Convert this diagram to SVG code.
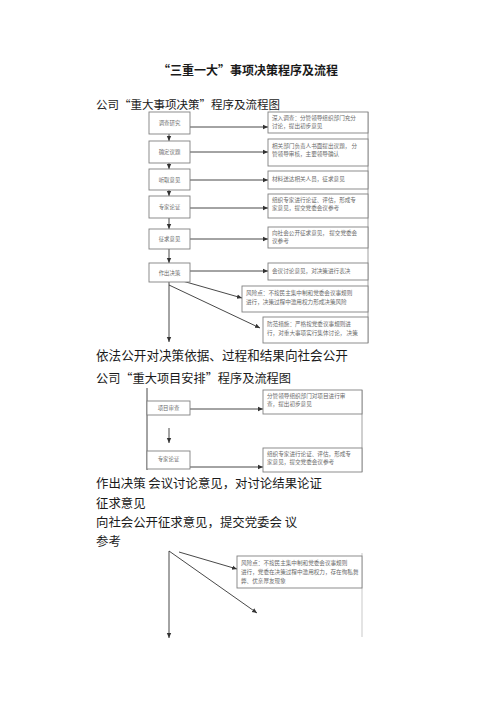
<svg xmlns="http://www.w3.org/2000/svg" width="496" height="702" viewBox="0 0 496 702">
<style>
.big{font-family:"Noto Sans CJK SC","Noto Sans",sans-serif;fill:#1a1a1a}
.sm{font-family:"Noto Sans CJK SC","Noto Sans",sans-serif;font-size:5.6px;fill:#6a6a6a}
.lb{font-family:"Noto Sans CJK SC","Noto Sans",sans-serif;font-size:5.4px;fill:#6a6a6a;text-anchor:middle}
.bx{fill:#fff;stroke:#808080;stroke-width:0.9}
.ln{stroke:#333;stroke-width:0.9;fill:none}
</style>
<defs>
<marker id="ah" markerWidth="6" markerHeight="6" refX="5" refY="3" orient="auto" markerUnits="userSpaceOnUse">
<path d="M0,0.8 L5,3 L0,5.2 z" fill="#333"/>
</marker>
</defs>
<rect width="496" height="702" fill="#fff"/>
<text class="big" x="248" y="75" font-size="12" font-weight="bold" text-anchor="middle">“三重一大”事项决策程序及流程</text>
<text class="big" x="96" y="109" font-size="11.5">公司“重大事项决策”程序及流程图</text>

<g id="connectors">
<line class="ln" x1="169" y1="134" x2="169" y2="141" marker-end="url(#ah)"/>
<line class="ln" x1="169" y1="163" x2="169" y2="169" marker-end="url(#ah)"/>
<line class="ln" x1="169" y1="190" x2="169" y2="196" marker-end="url(#ah)"/>
<line class="ln" x1="169" y1="218" x2="169" y2="229" marker-end="url(#ah)"/>
<line class="ln" x1="169" y1="249" x2="169" y2="263" marker-end="url(#ah)"/>
<line class="ln" x1="169" y1="282" x2="169" y2="342" marker-end="url(#ah)"/>
<line class="ln" x1="190" y1="127" x2="268" y2="127" marker-end="url(#ah)"/>
<line class="ln" x1="190" y1="152" x2="268" y2="152" marker-end="url(#ah)"/>
<line class="ln" x1="190" y1="180" x2="268" y2="180" marker-end="url(#ah)"/>
<line class="ln" x1="190" y1="208" x2="268" y2="208" marker-end="url(#ah)"/>
<line class="ln" x1="190" y1="239" x2="268" y2="239" marker-end="url(#ah)"/>
<line class="ln" x1="190" y1="271" x2="268" y2="271" marker-end="url(#ah)"/>
<line class="ln" x1="179" y1="280" x2="242" y2="298" marker-end="url(#ah)"/>
<line class="ln" x1="169" y1="285" x2="260" y2="328" marker-end="url(#ah)"/>
<line stroke="#888" stroke-width="0.8" x1="368" y1="112" x2="368" y2="343"/>

<line class="ln" x1="147" y1="388" x2="147" y2="470"/>
<line class="ln" x1="190" y1="409" x2="263" y2="409" marker-end="url(#ah)"/>
<line class="ln" x1="169" y1="428" x2="169" y2="443" marker-end="url(#ah)"/>
<line class="ln" x1="190" y1="467" x2="263" y2="467" marker-end="url(#ah)"/>
<line stroke="#888" stroke-width="0.8" x1="362" y1="390" x2="362" y2="472"/>

<line class="ln" x1="169" y1="551" x2="169" y2="638" marker-end="url(#ah)"/>
<line class="ln" x1="179" y1="552" x2="237" y2="569" marker-end="url(#ah)"/>
<line class="ln" x1="169" y1="551" x2="257" y2="613" marker-end="url(#ah)"/>
<line stroke="#bbb" stroke-width="0.8" x1="362" y1="553" x2="362" y2="637"/>
</g>

<g id="n1"><rect class="bx" x="149" y="112" width="41" height="22"/><text class="lb" x="169.5" y="125">调查研究</text></g>
<g id="n2"><rect class="bx" x="149" y="141" width="41" height="22"/><text class="lb" x="169.5" y="154">确定议题</text></g>
<g id="n3"><rect class="bx" x="149" y="169" width="41" height="21"/><text class="lb" x="169.5" y="181.5">听取意见</text></g>
<g id="n4"><rect class="bx" x="149" y="196" width="41" height="22"/><text class="lb" x="169.5" y="209">专家论证</text></g>
<g id="n5"><rect class="bx" x="149" y="229" width="41" height="20"/><text class="lb" x="169.5" y="241">征求意见</text></g>
<g id="n6"><rect class="bx" x="149" y="263" width="41" height="19"/><text class="lb" x="169.5" y="274.5">作出决策</text></g>

<g id="r1"><rect class="bx" x="268" y="112" width="100" height="21"/><text class="sm" x="272" y="120">深入调查：分管领导组织部门充分</text><text class="sm" x="272" y="128">讨论，提出初步意见</text></g>
<g id="r2"><rect class="bx" x="268" y="139" width="100" height="27"/><text class="sm" x="272" y="148">相关部门负责人书面提出议题，    分</text><text class="sm" x="272" y="156">管领导审核，主要领导确认</text></g>
<g id="r3"><rect class="bx" x="268" y="171" width="100" height="18"/><text class="sm" x="272" y="181">材料送达相关人员，征求意见</text></g>
<g id="r4"><rect class="bx" x="268" y="194" width="100" height="24"/><text class="sm" x="272" y="202">组织专家进行论证、评估，形成专</text><text class="sm" x="272" y="210">家意见，提交党委会议参考</text></g>
<g id="r5"><rect class="bx" x="268" y="227" width="100" height="21"/><text class="sm" x="272" y="235">向社会公开征求意见，    提交党委会</text><text class="sm" x="272" y="243">议参考</text></g>
<g id="r6"><rect class="bx" x="268" y="263" width="100" height="17"/><text class="sm" x="272" y="272.5">会议讨论意见，对决策进行表决</text></g>
<g id="risk1"><rect class="bx" x="242" y="286" width="126" height="26"/><text class="sm" x="246" y="295">风险点：不按民主集中制和党委会议事规则</text><text class="sm" x="246" y="304">进行，决策过程中滥用权力形成决策风险</text></g>
<g id="m1"><rect class="bx" x="263" y="317" width="105" height="26"/><text class="sm" x="267" y="326">防范措施：严格按党委议事规则进</text><text class="sm" x="267" y="335">行，对重大事项实行集体讨论，     决策</text></g>

<text class="big" x="96" y="360" font-size="12.6">依法公开对决策依据、过程和结果向社会公开</text>
<text class="big" x="96" y="383" font-size="12.2">公司“重大项目安排”程序及流程图</text>

<g id="p1"><rect class="bx" x="147" y="401" width="43" height="14"/><text class="lb" x="168.5" y="410">项目审查</text></g>
<g id="p2"><rect class="bx" x="147" y="451" width="43" height="18"/><text class="lb" x="168.5" y="461">专家论证</text></g>
<g id="q1"><rect class="bx" x="263" y="390" width="99" height="24"/><text class="sm" x="267" y="398">分管领导组织部门对项目进行审</text><text class="sm" x="267" y="406">查，提出初步意见</text></g>
<g id="q2"><rect class="bx" x="263" y="448" width="99" height="24"/><text class="sm" x="267" y="456">组织专家进行论证、评估，形成专</text><text class="sm" x="267" y="464">家意见，提交党委会议参考</text></g>

<text class="big" x="96" y="488" font-size="12.4">作出决策 会议讨论意见，对讨论结果论证</text>
<text class="big" x="96" y="508" font-size="12.4">征求意见</text>
<text class="big" x="96" y="527" font-size="12.4">向社会公开征求意见，提交党委会 议</text>
<text class="big" x="96" y="546" font-size="12.4">参考</text>

<g id="risk2"><rect class="bx" x="237" y="556" width="125" height="32"/><text class="sm" x="241" y="565">风险点：不按民主集中制和党委会议事规则</text><text class="sm" x="241" y="574">进行，党委在决策过程中滥用权力，存在徇私舞</text><text class="sm" x="241" y="583">弊、优亲厚友现象</text></g>
</svg>
